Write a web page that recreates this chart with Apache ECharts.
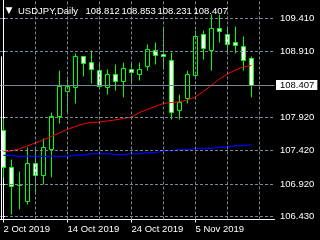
<!DOCTYPE html>
<html><head><meta charset="utf-8">
<script src="https://cdn.jsdelivr.net/npm/echarts@6/dist/echarts.min.js"></script>
<style>html,body{margin:0;padding:0;background:#000;}#c{width:320px;height:240px;}</style>
</head><body><div id="c"></div>
<script>
const symbol = 'USDJPY,Daily';
const dates = ['2 Oct 2019','3 Oct 2019','4 Oct 2019','7 Oct 2019','8 Oct 2019','9 Oct 2019','10 Oct 2019','11 Oct 2019',
  '14 Oct 2019','15 Oct 2019','16 Oct 2019','17 Oct 2019','18 Oct 2019','21 Oct 2019','22 Oct 2019','23 Oct 2019',
  '24 Oct 2019','25 Oct 2019','28 Oct 2019','29 Oct 2019','30 Oct 2019','31 Oct 2019','1 Nov 2019','4 Nov 2019',
  '5 Nov 2019','6 Nov 2019','7 Nov 2019','8 Nov 2019','11 Nov 2019','12 Nov 2019','13 Nov 2019','14 Nov 2019'];
const open  = [107.73,107.17,106.90,106.66,107.24,107.06,107.45,107.94,108.32,108.38,108.84,108.75,108.63,108.38,108.58,108.47,
               108.65,108.58,108.69,108.93,108.88,108.78,108.03,108.22,108.56,109.17,108.94,109.27,109.17,109.05,108.99,108.812];
const high  = [107.91,107.29,107.12,107.48,107.48,107.61,108.01,108.63,108.50,108.89,108.85,108.93,108.75,108.65,108.72,108.75,
               108.75,108.76,109.03,109.06,109.28,108.90,108.28,108.64,109.23,109.24,109.48,109.48,109.29,109.29,109.14,108.853];
const low   = [107.02,106.47,106.54,106.62,106.77,106.92,107.02,107.84,107.99,108.14,108.54,108.44,108.35,108.27,108.33,108.23,
               108.45,108.49,108.63,108.73,108.65,107.90,107.90,108.14,108.53,108.80,108.63,109.05,108.88,108.89,108.63,108.231];
const close = [107.17,106.89,106.91,107.24,107.06,107.47,107.94,108.40,108.39,108.85,108.74,108.65,108.39,108.58,108.47,108.67,
               108.60,108.65,108.95,108.86,108.84,108.01,108.15,108.57,109.15,108.97,109.27,109.22,109.02,109.01,108.79,108.407];
const maFast = [107.41,107.417,107.448,107.493,107.538,107.583,107.636,107.688,107.741,107.786,107.824,107.846,107.851,107.869,107.884,107.906,
                107.926,107.996,108.042,108.087,108.132,108.147,108.157,108.184,108.23,108.312,108.403,108.5,108.575,108.636,108.681,108.703];
const maSlow = [107.35,107.35,107.335,107.335,107.335,107.335,107.335,107.335,107.335,107.354,107.354,107.375,107.375,107.375,107.36,107.36,
                107.375,107.375,107.39,107.39,107.42,107.42,107.435,107.435,107.455,107.455,107.455,107.475,107.475,107.496,107.496,107.51];
const priceGrid = [109.41,108.91,108.41,107.92,107.42,106.92,106.43];
const priceLabels = [109.41,108.91,107.92,107.42,106.92,106.43];
const timeGrid = [4,8,12,16,20,24,28,32];
const timeLabelIdx = [0,8,16,24];

const FONT = '"Liberation Sans",Arial,sans-serif';
const FS = 9.5;
const GREEN = '#00ff00', GRIDC = '#778899';
const yMax = 109.68845, yMin = 106.38472;
const last = close.length - 1;

const candleData = open.map((o, i) => [i, o, close[i], low[i], high[i]]);

function renderCandle(params, api) {
  const x = api.value(0), o = api.value(1), c = api.value(2), l = api.value(3), h = api.value(4);
  const pO = api.coord([x, o]), pC = api.coord([x, c]), pL = api.coord([x, l]), pH = api.coord([x, h]);
  const cx = Math.round(pO[0] - 0.5) + 0.5;
  const half = Math.round(api.size([1, 0])[0] * 0.25);
  const top = Math.round(Math.min(pO[1], pC[1])) + 0.5;
  const bot = Math.round(Math.max(pO[1], pC[1])) + 0.5;
  return {
    type: 'group',
    children: [
      {type: 'line', shape: {x1: cx, y1: Math.round(pH[1]) + 0.5, x2: cx, y2: Math.round(pL[1]) + 0.5},
       style: {stroke: GREEN, lineWidth: 1}},
      {type: 'rect', shape: {x: cx - half, y: top, width: half * 2, height: Math.max(bot - top, 0)},
       style: {fill: c < o ? '#ffffff' : '#000000', stroke: GREEN, lineWidth: 1}}
    ]
  };
}

const titleStyle = {color: '#ffffff', fontSize: FS, fontFamily: FONT, fontWeight: 'normal'};
const option = {
  backgroundColor: '#000000',
  animation: false,
  title: [
    {text: '▼', left: 5.5, top: 6, padding: 0, textStyle: {color: '#ffffff', fontSize: 9, fontFamily: 'DejaVu Sans', fontWeight: 'normal'}},
    {text: symbol, left: 18, top: 6, padding: 0, textStyle: titleStyle},
    {text: open[last].toFixed(3), left: 85.5, top: 6, padding: 0, textStyle: titleStyle},
    {text: high[last].toFixed(3), left: 121.5, top: 6, padding: 0, textStyle: titleStyle},
    {text: low[last].toFixed(3), left: 157.5, top: 6, padding: 0, textStyle: titleStyle},
    {text: close[last].toFixed(3), left: 193.5, top: 6, padding: 0, textStyle: titleStyle}
  ],
  grid: {left: 0, right: 45.5, top: 0, bottom: 20.5},
  xAxis: {
    type: 'value', min: -0.4375, max: 33.875,
    axisLine: {show: true, onZero: false, lineStyle: {color: '#ffffff', width: 1}},
    axisTick: {show: true, customValues: timeLabelIdx, length: 3, lineStyle: {color: '#ffffff'}},
    axisLabel: {show: true, customValues: timeLabelIdx, formatter: v => dates[v], align: 'left', margin: 5,
      color: '#ffffff', fontSize: FS, fontFamily: FONT},
    splitLine: {show: false}
  },
  yAxis: {
    type: 'value', position: 'right', min: yMin, max: yMax, scale: true,
    axisLine: {show: true, lineStyle: {color: '#ffffff', width: 1}},
    axisTick: {show: true, customValues: priceLabels, length: 3, lineStyle: {color: '#ffffff'}},
    axisLabel: {show: true, customValues: priceLabels, formatter: v => v.toFixed(3), margin: 5.5,
      color: '#ffffff', fontSize: FS, fontFamily: FONT},
    splitLine: {show: false}
  },
  series: [
    {
      type: 'line', name: 'grid', data: [], z: 1, silent: true,
      markLine: {
        silent: true, symbol: 'none', animation: false,
        lineStyle: {color: GRIDC, type: [3, 2], width: 1},
        label: {show: false},
        data: priceGrid.map(v => ({yAxis: v})).concat(timeGrid.map(v => ({xAxis: v}))).concat([
          {yAxis: close[last], lineStyle: {type: 'solid', color: GRIDC},
           label: {show: true, position: 'end', distance: 1.5, formatter: close[last].toFixed(3), color: '#000000',
             backgroundColor: '#ffffff', padding: [0, 3, 0, 4], lineHeight: 10, fontSize: FS, fontFamily: FONT}},
          [{coord: [-0.25, 108.84], lineStyle: {type: 'solid', color: '#ffffff'}}, {coord: [-0.25, yMin]}]
        ])
      }
    },
    {
      type: 'custom', name: 'price', z: 2, renderItem: renderCandle, data: candleData,
      encode: {x: 0, y: [1, 2, 3, 4]}, clip: true
    },
    {
      type: 'line', name: 'MA slow', z: 3, data: maSlow.map((v, i) => [i, v]), showSymbol: false,
      lineStyle: {color: '#0000ff', width: 1.2}, itemStyle: {color: '#0000ff'}
    },
    {
      type: 'line', name: 'MA fast', z: 3, data: maFast.map((v, i) => [i, v]), showSymbol: false,
      lineStyle: {color: '#ff0000', width: 1}, itemStyle: {color: '#ff0000'}
    }
  ]
};
const chart = echarts.init(document.getElementById('c'), null, {renderer: 'canvas'});
chart.setOption(option);
</script></body></html>
